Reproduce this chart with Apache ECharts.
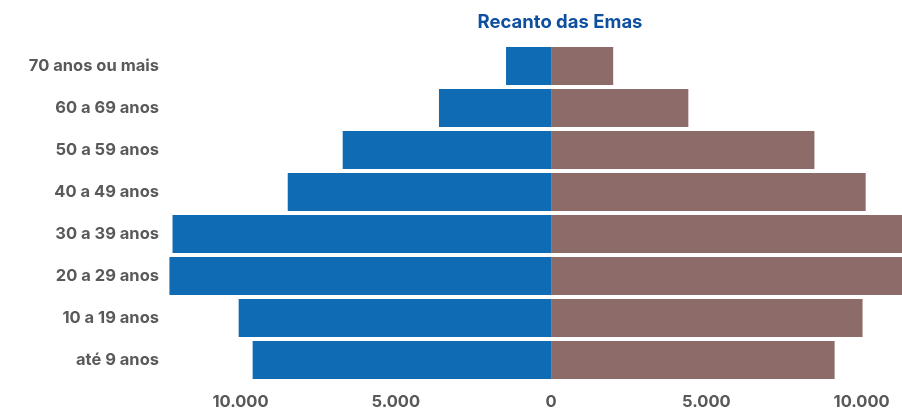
<!DOCTYPE html>
<html>
<head>
	<meta charset="utf-8">
	<title>Recanto das Emas</title>
    <script src="https://cdn.jsdelivr.net/npm/echarts@6/dist/echarts.min.js"></script>
    <style>
        html, body { margin: 0; padding: 0; background: #fff; }
    </style>
</head>
<body>
    <div id="main" style="width: 902px;height:412px;"></div>
	<script type="text/javascript">
        const faixas = ['até 9 anos', '10 a 19 anos', '20 a 29 anos', '30 a 39 anos',
            '40 a 49 anos', '50 a 59 anos', '60 a 69 anos', '70 anos ou mais'];
        const homens = [9610, 10060, 12290, 12190, 8480, 6710, 3610, 1450];
        const mulheres = [9130, 10030, 11400, 11400, 10130, 8480, 4420, 2000];
        const ticks = [-10000, -5000, 0, 5000, 10000];

        const fmt = v => Math.abs(v).toLocaleString('pt-BR');
        const labelFont = { fontFamily: 'Inter', fontWeight: 'bold', fontSize: 16.5, color: '#595959' };

        const myChart = echarts.init(document.getElementById('main'));
        const options = {
            animation: false,
            title: {
                text: 'Recanto das Emas',
                left: 555,
                textAlign: 'center',
                top: 8,
                textStyle: { fontFamily: 'Inter', fontWeight: 'bold', fontSize: 18.5, color: '#0E4FA0' }
            },
            grid: { left: 166, right: 0, top: 45, bottom: 31 },
            xAxis: {
                type: 'value',
                min: -12400,
                max: 11300,
                splitLine: { show: false },
                axisLine: { show: false },
                axisTick: { show: false },
                axisLabel: Object.assign({
                    customValues: ticks,
                    margin: 13,
                    formatter: fmt
                }, labelFont)
            },
            yAxis: {
                type: 'category',
                data: faixas,
                axisLine: { show: false },
                axisTick: { show: false },
                axisLabel: Object.assign({ margin: 7 }, labelFont)
            },
            series: [{
                name: 'Homens',
                type: 'bar',
                stack: 'pop',
                barWidth: 38,
                itemStyle: { color: '#106BB5' },
                data: homens.map(v => -v)
            }, {
                name: 'Mulheres',
                type: 'bar',
                stack: 'pop',
                barWidth: 38,
                itemStyle: { color: '#8C6B69' },
                data: mulheres
            }]
        };
        myChart.setOption(options);
	</script>
</body>
</html>
